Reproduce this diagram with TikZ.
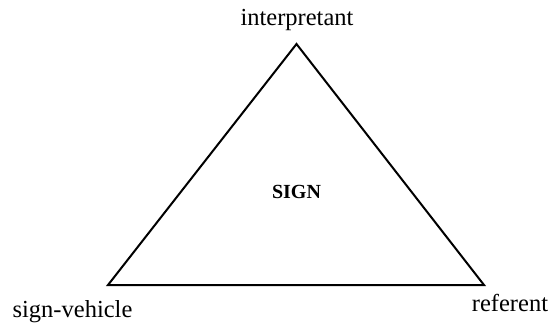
\documentclass[tikz,border=0pt]{standalone}
\usepackage{fontspec}
\setmainfont{Liberation Serif}
\begin{document}
\begin{tikzpicture}[x=1pt,y=-1pt,
  lbl/.style={font=\fontsize{24.5}{28}\selectfont, inner sep=0pt},
  edge/.style={line width=2pt, line join=miter}]
\useasboundingbox (0,0) rectangle (552,325);
\coordinate (top) at (296.5,44);
\coordinate (bl) at (108,285);
\coordinate (br) at (484,285);
\draw[edge] (top) -- (bl) -- (br) -- cycle;
\node[lbl] (interp) at (297,20) {interpretant};
\node[lbl] (sv) at (72.5,312) {sign-vehicle};
\node[lbl] (ref) at (510,303) {referent};
\node[inner sep=0pt, font=\fontsize{20}{24}\selectfont\bfseries] (sign) at (296.5,192) {SIGN};
\end{tikzpicture}
\end{document}
